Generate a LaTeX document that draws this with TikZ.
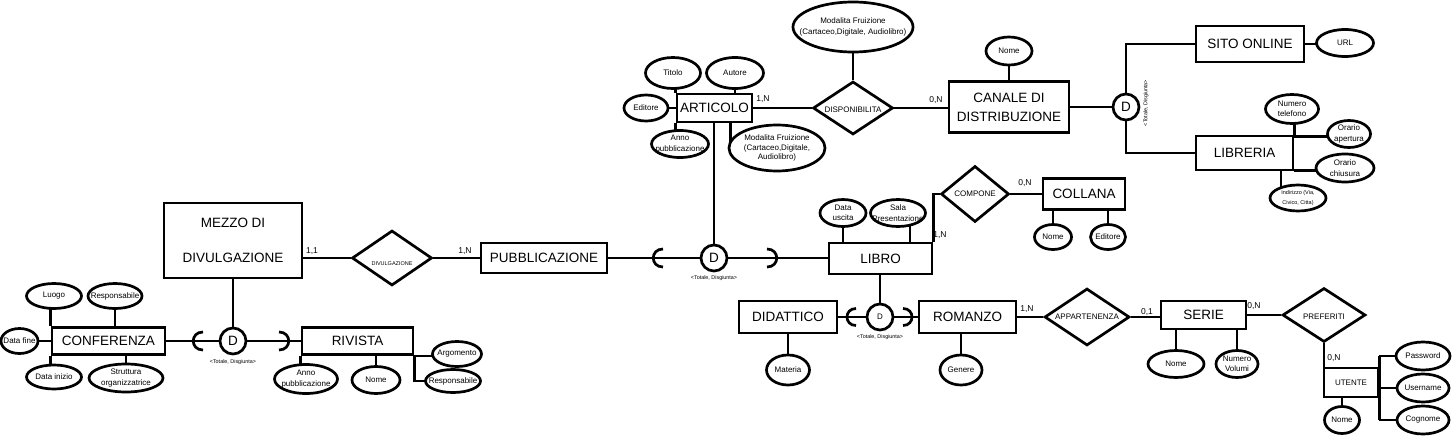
\documentclass[tikz,border=0pt]{standalone}
\usepackage{fontspec}
\setmainfont{Liberation Sans}
\usetikzlibrary{shapes.geometric}
\pgfdeclarelayer{bg}
\pgfsetlayers{bg,main}
\begin{document}
\begin{tikzpicture}[x=1pt,y=-1pt,
  lw/.style={line width=2.7pt},
  ent/.style={draw, lw, fill=white, rectangle, inner sep=0pt, align=center, font=\fontsize{13.5}{16}\selectfont},
  sent/.style={ent, font=\fontsize{8}{10}\selectfont},
  attr/.style={draw, lw, fill=white, ellipse, inner sep=0pt},
  atxt/.style={font=\fontsize{8}{10.5}\selectfont, align=center, inner sep=0pt},
  rel/.style={draw, lw, fill=white, diamond, inner sep=0pt},
  rtxt/.style={font=\fontsize{8}{10}\selectfont, inner sep=0pt},
  gen/.style={draw, lw, fill=white, circle, inner sep=0pt, minimum size=26pt, font=\fontsize{13.5}{16}\selectfont},
  tot/.style={font=\fontsize{5.4}{6}\selectfont, inner sep=0pt},
  card/.style={font=\fontsize{8.5}{10}\selectfont, inner sep=0pt},
  conn/.style={lw}
]
\useasboundingbox (0,0) rectangle (1453,447);

% ---------- entities ----------
\node[ent, minimum width=138pt, minimum height=75pt] (mezzo) at (233,240.5) {MEZZO DI\\[19pt]DIVULGAZIONE};
\node[ent, minimum width=126pt, minimum height=30pt] (pub) at (544,258) {PUBBLICAZIONE};
\node[ent, minimum width=113pt, minimum height=27pt] (conf) at (108.5,341) {CONFERENZA};
\node[ent, minimum width=111pt, minimum height=27pt] (riv) at (357.5,341) {RIVISTA};
\node[ent, minimum width=75pt, minimum height=28pt] (art) at (714.5,108) {ARTICOLO};
\node[ent, minimum width=120pt, minimum height=51pt] (can) at (1009,107) {CANALE DI\\[3pt]DISTRIBUZIONE};
\node[ent, minimum width=108pt, minimum height=36pt] (sito) at (1250,44) {SITO ONLINE};
\node[ent, minimum width=97pt, minimum height=34pt] (lib) at (1244.5,153) {LIBRERIA};
\node[ent, minimum width=103pt, minimum height=31pt] (libro) at (880.5,258.5) {LIBRO};
\node[ent, minimum width=82pt, minimum height=31pt] (col) at (1084,194) {COLLANA};
\node[ent, minimum width=98pt, minimum height=32pt] (did) at (788,317) {DIDATTICO};
\node[ent, minimum width=97pt, minimum height=32pt] (rom) at (967.5,317) {ROMANZO};
\node[ent, minimum width=85pt, minimum height=28pt] (serie) at (1203.5,315) {SERIE};
\node[sent, minimum width=54pt, minimum height=29pt] (ut) at (1351,382.5) {UTENTE};

% ---------- relationships ----------
\node[rel, minimum width=80pt, minimum height=55pt, label={[rtxt,font=\fontsize{5.5}{6}\selectfont,yshift=-6pt]center:DIVULGAZIONE}] (dv) at (392,258) {};
\node[rel, minimum width=80pt, minimum height=53pt, label={[rtxt,yshift=-2pt]center:DISPONIBILITA}] (disp) at (853,108) {};
\node[rel, minimum width=68pt, minimum height=56pt, label={[rtxt]center:COMPONE}] (comp) at (975,194) {};
\node[rel, minimum width=85pt, minimum height=57pt, label={[rtxt]center:APPARTENENZA}] (app) at (1087,317) {};
\node[rel, minimum width=83pt, minimum height=54pt, label={[rtxt,yshift=-2pt]center:PREFERITI}] (pref) at (1324,315) {};

% ---------- generalisations ----------
\node[gen] (d1) at (233,341) {D};
\node[gen] (d2) at (714,258) {D};
\node[gen, font=\fontsize{8}{10}\selectfont] (d3) at (880,317) {D};
\node[gen] (d4) at (1126,107) {D};
\node[tot] (t1) at (233,362) {<Totale, Disgiunta>};
\node[tot] (t2) at (714,278) {<Totale, Disgiunta>};
\node[tot] (t3) at (880,337) {<Totale, Disgiunta>};
\node[tot, rotate=90] (t4) at (1146,103) {<Totale, Disgiunta>};

% ---------- attributes ----------
\node[attr, minimum width=55pt, minimum height=25pt, label={[atxt]center:Luogo}] (luogo) at (54,296) {};
\node[attr, minimum width=54pt, minimum height=25pt, label={[atxt]center:Responsabile}] (resp1) at (115,296) {};
\node[attr, minimum width=37pt, minimum height=25pt, label={[atxt]center:Data fine}] (dfine) at (19.5,341) {};
\node[attr, minimum width=55pt, minimum height=24pt, label={[atxt]center:Data inizio}] (dinizio) at (54,377) {};
\node[attr, minimum width=74pt, minimum height=28pt, label={[atxt]center:{Struttura\\organizzatrice}}] (strutt) at (126,378) {};

\node[attr, minimum width=63pt, minimum height=29pt, label={[atxt]center:{Anno\\pubblicazione}}] (anno2) at (306,379) {};
\node[attr, minimum width=48pt, minimum height=27pt, label={[atxt]center:Nome}] (nome2) at (376,380) {};
\node[attr, minimum width=49pt, minimum height=25pt, label={[atxt]center:Argomento}] (argom) at (457,354) {};
\node[attr, minimum width=55pt, minimum height=23pt, label={[atxt]center:Responsabile}] (resp2) at (453,381) {};

\node[attr, minimum width=55pt, minimum height=31pt, label={[atxt]center:Titolo}] (titolo) at (673,73) {};
\node[attr, minimum width=57pt, minimum height=31pt, label={[atxt]center:Autore}] (autore) at (735,73) {};
\node[attr, minimum width=44pt, minimum height=26pt, label={[atxt]center:Editore}] (editore1) at (646,108) {};
\node[attr, minimum width=57pt, minimum height=27pt, label={[atxt]center:{Anno\\pubblicazione}}] (anno1) at (680,144) {};
\node[attr, minimum width=96pt, minimum height=46pt, label={[atxt,font=\fontsize{8}{9.5}\selectfont]center:{Modalita Fruizione\\(Cartaceo,Digitale,\\Audiolibro)}}] (mod2) at (777,148) {};
\node[attr, minimum width=120pt, minimum height=50pt, label={[atxt]center:{Modalita Fruizione\\(Cartaceo,Digitale, Audiolibro)}}] (mod1) at (853,27) {};

\node[attr, minimum width=46pt, minimum height=28pt, label={[atxt]center:Nome}] (cnome) at (1009,51) {};
\node[attr, minimum width=57pt, minimum height=27pt, label={[atxt]center:URL}] (url) at (1345,43) {};
\node[attr, minimum width=53pt, minimum height=29pt, label={[atxt]center:{Numero\\telefono}}] (ntel) at (1292,109) {};
\node[attr, minimum width=43pt, minimum height=27pt, label={[atxt]center:{Orario\\apertura}}] (oap) at (1349,134) {};
\node[attr, minimum width=58pt, minimum height=28pt, label={[atxt]center:{Orario\\chiusura}}] (och) at (1345,168) {};
\node[attr, minimum width=56pt, minimum height=26pt, label={[atxt,font=\fontsize{5.5}{10}\selectfont]center:{Indirizzo (Via,\\Civico, Citta)}}] (ind) at (1298,198) {};

\node[attr, minimum width=46pt, minimum height=27pt, label={[atxt]center:{Data\\uscita}}] (dusc) at (843,213) {};
\node[attr, minimum width=55pt, minimum height=27pt, label={[atxt]center:{Sala\\Presentazione}}] (sala) at (898,213) {};
\node[attr, minimum width=37pt, minimum height=25pt, label={[atxt]center:Nome}] (colnome) at (1053,237) {};
\node[attr, minimum width=35pt, minimum height=25pt, label={[atxt]center:Editore}] (coledit) at (1108,237) {};
\node[attr, minimum width=43pt, minimum height=30pt, label={[atxt]center:Materia}] (materia) at (788,370) {};
\node[attr, minimum width=42pt, minimum height=30pt, label={[atxt]center:Genere}] (genere) at (961,370) {};
\node[attr, minimum width=56pt, minimum height=27pt, label={[atxt]center:Nome}] (snome) at (1176,364) {};
\node[attr, minimum width=42pt, minimum height=27pt, label={[atxt]center:{Numero\\Volumi}}] (nvol) at (1237,364) {};
\node[attr, minimum width=54pt, minimum height=28pt, label={[atxt]center:Password}] (pw) at (1423,356) {};
\node[attr, minimum width=52pt, minimum height=28pt, label={[atxt]center:Username}] (uname) at (1423,388) {};
\node[attr, minimum width=52pt, minimum height=28pt, label={[atxt]center:Cognome}] (cogn) at (1423,420) {};
\node[attr, minimum width=35pt, minimum height=27pt, label={[atxt]center:Nome}] (unome) at (1342,420) {};

% ---------- cardinalities ----------
\node[card] (c1) at (312,251) {1,1};
\node[card] (c2) at (465,251) {1,N};
\node[card] (c3) at (763,99) {1,N};
\node[card] (c4) at (936,100) {0,N};
\node[card] (c5) at (940,235) {1,N};
\node[card] (c6) at (1025,183) {0,N};
\node[card] (c7) at (1027,309) {1,N};
\node[card] (c8) at (1147,312) {0,1};
\node[card] (c9) at (1254,306) {0,N};
\node[card] (c10) at (1334,358) {0,N};

% ---------- connectors ----------
\begin{pgfonlayer}{bg}
\fill[white] (0,0) rectangle (1453,447);
\draw[conn] (mezzo.east |- dv.west) -- (dv.west);
\draw[conn] (dv.east) -- (pub.west);
\draw[conn] (pub.east) -- (d2.west);
\draw[conn] (d2.east) -- (d2.east -| libro.west);
\draw[conn] (d2.north) -- (d2.north |- art.south);
\draw[conn] (mezzo.south) -- (d1.north);
\draw[conn] (conf.east) -- (d1.west);
\draw[conn] (d1.east) -- (riv.west);
% cups
\draw[conn] ([shift={(-30,-9)}]d1.center) .. controls +(-13,0) and +(-13,0) .. ([shift={(-30,9)}]d1.center);
\draw[conn] ([shift={(46,-9)}]d1.center) .. controls +(13,0) and +(13,0) .. ([shift={(46,9)}]d1.center);
\draw[conn] ([shift={(-51,-9)}]d2.center) .. controls +(-13,0) and +(-13,0) .. ([shift={(-51,9)}]d2.center);
\draw[conn] ([shift={(53,-9)}]d2.center) .. controls +(13,0) and +(13,0) .. ([shift={(53,9)}]d2.center);
\draw[conn] ([shift={(-24,-8.5)}]d3.center) .. controls +(-12,0) and +(-12,0) .. ([shift={(-24,8.5)}]d3.center);
\draw[conn] ([shift={(23,-8.5)}]d3.center) .. controls +(12,0) and +(12,0) .. ([shift={(23,8.5)}]d3.center);
% conferenza
\draw[conn] (conf.north west) -- (conf.north west |- luogo.center);
\draw[conn] (resp1.center) -- (resp1.center |- conf.north);
\draw[conn] (dfine.center) -- (conf.west);
\draw[conn] (conf.south west) -- (conf.south west |- dinizio.center);
\draw[conn] (strutt.center) -- (strutt.center |- conf.south);
% rivista
\draw[conn] (riv.south west) -- (riv.south west |- anno2.center);
\draw[conn] (nome2.center) -- (nome2.center |- riv.south);
\draw[conn] (riv.south east) -- (riv.south east -| argom.center);
\draw[conn] (riv.south east) -- (riv.south east |- resp2.center) -- (resp2.center);
% articolo
\draw[conn] (art.north west) -- (art.north west |- titolo.center);
\draw[conn] (autore.center) -- (autore.center |- art.north);
\draw[conn] (editore1.center) -- (art.west);
\draw[conn] (art.south west) -- (art.south west |- anno1.center);
\draw[conn] ([xshift=3pt]mod2.west |- art.south) -- ([xshift=3pt]mod2.west);
\draw[conn] (art.east) -- (disp.west);
\draw[conn] (mod1.center) -- (disp.north);
\draw[conn] (disp.east) -- (disp.east -| can.west);
\draw[conn] (cnome.center) -- (can.north);
\draw[conn] (can.east) -- (d4.west);
\draw[conn] (d4.north) -- (d4.north |- sito.west) -- (sito.west);
\draw[conn] (d4.south) -- (d4.south |- lib.west) -- (lib.west);
\draw[conn] (sito.east) -- (sito.east -| url.center);
% libreria
\draw[conn] (lib.north east) -- (lib.north east |- ntel.center);
\draw[conn] ([yshift=-2pt]lib.north east) -- ([yshift=-2pt]lib.north east -| oap.center);
\draw[conn] ([yshift=1pt]lib.south east) -- ([yshift=1pt]lib.south east -| och.center);
\draw[conn] ([xshift=36.5pt]lib.south) -- ([xshift=36.5pt]lib.south |- ind.center);
% libro
\draw[conn] (dusc.center) -- (dusc.center |- libro.north);
\draw[conn] ([xshift=12pt]sala.center) -- ([xshift=12pt]sala.center |- libro.north);
\draw[conn] (libro.north east) -- (libro.north east |- comp.west) -- (comp.west);
\draw[conn] (comp.east) -- (col.west);
\draw[conn] (colnome.center) -- (colnome.center |- col.south);
\draw[conn] (coledit.center) -- (coledit.center |- col.south);
\draw[conn] (d3.north |- libro.south) -- (d3.north);
\draw[conn] (did.east) -- (d3.west);
\draw[conn] (d3.east) -- (rom.west);
\draw[conn] (materia.center) -- (materia.center |- did.south);
\draw[conn] (genere.center) -- (genere.center |- rom.south);
\draw[conn] (rom.east) -- (app.west);
\draw[conn] (app.east) -- (app.east -| serie.west);
\draw[conn] (snome.center) -- (snome.center |- serie.south);
\draw[conn] (nvol.center) -- (nvol.center |- serie.south);
\draw[conn] (serie.east) -- (serie.east -| pref.west);
\draw[conn] (pref.south) -- (pref.south |- ut.north);
\draw[conn] (ut.east |- pw.center) -- (ut.east |- cogn.center);
\draw[conn] (ut.east |- pw.center) -- (pw.center);
\draw[conn] (ut.east |- uname.center) -- (uname.center);
\draw[conn] (ut.east |- cogn.center) -- (cogn.center);
\draw[conn] (unome.center) -- (unome.center |- ut.south);
\end{pgfonlayer}
\end{tikzpicture}
\end{document}
